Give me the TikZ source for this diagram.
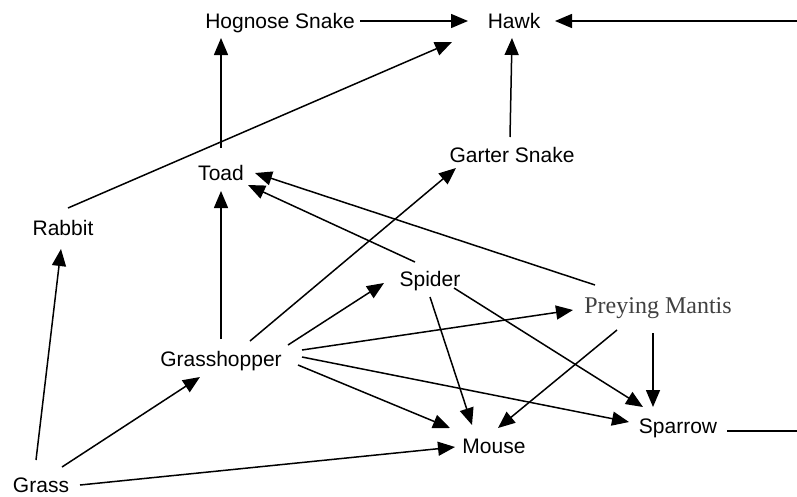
\documentclass[tikz,border=0pt]{standalone}
\usepackage{fontspec}
\setmainfont{Liberation Sans}
\newfontfamily\serifmantis{Liberation Serif}
\usetikzlibrary{arrows.meta}
\tikzset{
  lbl/.style={anchor=base, inner sep=0pt, font=\fontsize{21}{25}\selectfont},
  lblserif/.style={anchor=base, inner sep=0pt, text=black!75, font=\serifmantis\fontsize{24}{28}\selectfont},
  eat/.style={line width=1.5pt, -{Triangle[length=17pt,width=14pt]}},
  plain/.style={line width=1.5pt}
}
\begin{document}
\begin{tikzpicture}[x=1pt,y=-1pt]
\path[use as bounding box] (0,0) rectangle (797,496);
% nodes (positioned at text baseline)
\node[lbl] (HS) at (280,28) {Hognose Snake};
\node[lbl] (HK) at (514,28) {Hawk};
\node[lbl] (GS) at (512,162) {Garter Snake};
\node[lbl] (TD) at (221,180) {Toad};
\node[lbl] (RB) at (63,235) {Rabbit};
\node[lbl] (SP) at (430,286) {Spider};
\node[lblserif] (PM) at (658,313) {Preying Mantis};
\node[lbl] (GH) at (221,366) {Grasshopper};
\node[lbl] (MS) at (494,453) {Mouse};
\node[lbl] (SW) at (678,433) {Sparrow};
\node[lbl] (GR) at (41,492) {Grass};
\coordinate (R1) at (797,21);
\coordinate (R2) at (797,431);
% connectors
\draw[eat] ([shift={(80,-7)}]HS.base) -- ([shift={(-46,-7)}]HK.base);
\draw[eat] (R1) -- ([shift={(41,-7)}]HK.base);
\draw[eat] ([shift={(5,-27)}]RB.base) -- ([shift={(-62,14)}]HK.base);
\draw[eat] ([shift={(0,-32)}]TD.base) -- ([shift={(-59,10)}]HS.base);
\draw[eat] ([shift={(-2,-25)}]GS.base) -- ([shift={(-2,10)}]HK.base);
\draw[eat] ([shift={(0,-27)}]GH.base) -- ([shift={(0,11)}]TD.base);
\draw[eat] ([shift={(-15,-24)}]SP.base) -- ([shift={(27,5)}]TD.base);
\draw[eat] ([shift={(-63,-28)}]PM.base) -- ([shift={(34,-7)}]TD.base);
\draw[eat] ([shift={(29,-25)}]GH.base) -- ([shift={(-56,6)}]GS.base);
\draw[eat] ([shift={(67,-21)}]GH.base) -- ([shift={(-46,-3)}]SP.base);
\draw[eat] ([shift={(81,-16)}]GH.base) -- ([shift={(-85,-3)}]PM.base);
\draw[eat] ([shift={(77,-1)}]GH.base) -- ([shift={(-44,-25)}]MS.base);
\draw[eat] ([shift={(81,-9)}]GH.base) -- ([shift={(-49,-11)}]SW.base);
\draw[eat] ([shift={(0,11)}]SP.base) -- ([shift={(-22,-28)}]MS.base);
\draw[eat] ([shift={(24,2)}]SP.base) -- ([shift={(-35,-26)}]SW.base);
\draw[eat] ([shift={(-41,17)}]PM.base) -- ([shift={(4,-25)}]MS.base);
\draw[eat] ([shift={(-5,20)}]PM.base) -- ([shift={(-25,-26)}]SW.base);
\draw[plain] ([shift={(49,-2)}]SW.base) -- (R2);
\draw[eat] ([shift={(-5,-32)}]GR.base) -- ([shift={(-2,14)}]RB.base);
\draw[eat] ([shift={(21,-25)}]GR.base) -- ([shift={(-21,11)}]GH.base);
\draw[eat] ([shift={(39,-7)}]GR.base) -- ([shift={(-39,-6)}]MS.base);
\end{tikzpicture}
\end{document}
